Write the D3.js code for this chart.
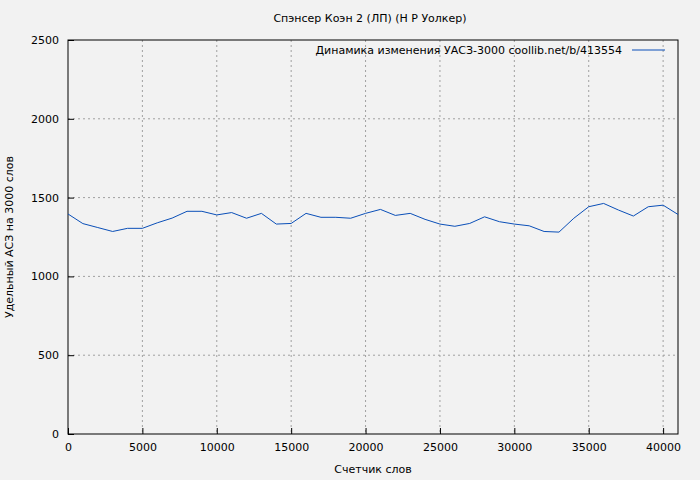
<!DOCTYPE html>
<html><head><meta charset="utf-8">
<script src="https://cdn.jsdelivr.net/npm/d3@7"></script>
<style>body{margin:0;background:#f2f2f2}text{font-family:"DejaVu Sans",sans-serif;font-size:11px}</style>
</head><body><svg id="c" width="700" height="480"></svg>
<script>
var xValues = d3.range(0, 41001, 1000);
var yValues = [1396,1335,1310,1285,1305,1305,1340,1370,1413,1413,1390,1405,1369,1400,1332,1336,1400,1375,1375,1369,1400,1425,1387,1400,1362,1332,1318,1336,1378,1347,1332,1321,1285,1281,1369,1442,1463,1421,1383,1442,1452,1393];
var xTicks = [0,5000,10000,15000,20000,25000,30000,35000,40000];
var yTicks = [0,500,1000,1500,2000,2500];

var svg = d3.select("#c");
var m = {l:68, r:678, t:40, b:434};
var x = d3.scaleLinear().domain([0,41000]).range([m.l,m.r]);
var y = d3.scaleLinear().domain([0,2500]).range([m.b,m.t]);

svg.append("rect").attr("width",700).attr("height",480).attr("fill","#f2f2f2");

var grid = svg.append("g").attr("stroke","#a0a0a0").attr("stroke-dasharray","2,3");
xTicks.slice(1).forEach(function(t){ grid.append("line").attr("x1",x(t)).attr("x2",x(t)).attr("y1",m.t).attr("y2",m.b); });
yTicks.slice(1,-1).forEach(function(t){ grid.append("line").attr("x1",m.l).attr("x2",m.r).attr("y1",y(t)).attr("y2",y(t)); });

svg.append("g").attr("transform","translate(0,"+m.b+")")
  .call(d3.axisBottom(x).tickValues(xTicks).tickSize(-6).tickPadding(9).tickFormat(d3.format("d")));
svg.append("g").attr("transform","translate("+m.l+",0)")
  .call(d3.axisLeft(y).tickValues(yTicks).tickSize(-6).tickPadding(9).tickFormat(d3.format("d")));
svg.selectAll(".domain").remove();
svg.selectAll(".tick line").attr("stroke","#000");
svg.selectAll(".tick text").attr("fill","#000").style("font-size","11px");
svg.append("rect").attr("x",m.l).attr("y",m.t).attr("width",m.r-m.l).attr("height",m.b-m.t)
  .attr("fill","none").attr("stroke","#000");

svg.append("path").datum(xValues)
  .attr("fill","none").attr("stroke","#0a4fb8").attr("stroke-width",1)
  .attr("d", d3.line().x(function(d){return x(d);}).y(function(d,i){return y(yValues[i]);}));

svg.append("text").attr("x",370).attr("y",22).attr("text-anchor","middle").text("Спэнсер Коэн 2 (ЛП) (Н Р Уолкер)");
svg.append("text").attr("x",373).attr("y",473).attr("text-anchor","middle").text("Счетчик слов");
svg.append("text").attr("transform","translate(13,237) rotate(-90)").attr("text-anchor","middle").text("Удельный АСЗ на 3000 слов");
svg.append("text").attr("x",622).attr("y",54).attr("text-anchor","end").text("Динамика изменения УАСЗ-3000  coollib.net/b/413554");
svg.append("line").attr("x1",632).attr("x2",665).attr("y1",50).attr("y2",50).attr("stroke","#0a4fb8");
</script></body></html>
